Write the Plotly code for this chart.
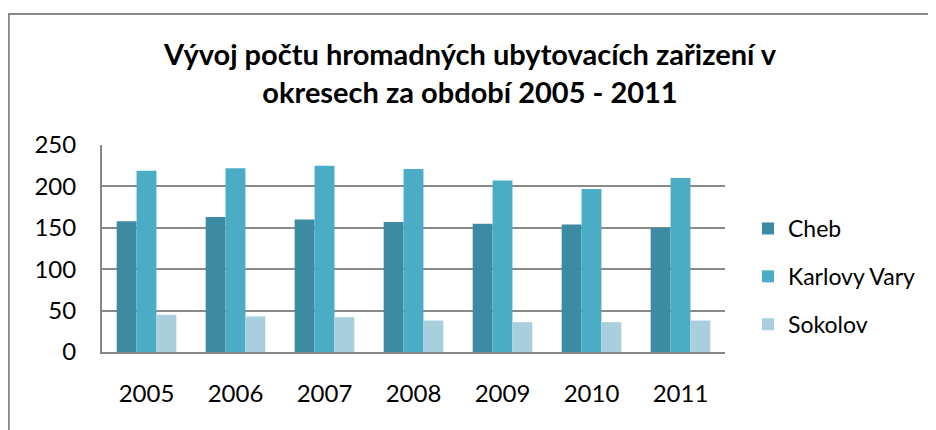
import plotly.graph_objects as go

years = ["2005", "2006", "2007", "2008", "2009", "2010", "2011"]
cheb = [158, 163, 160, 157, 155, 154, 150]
karlovy_vary = [219, 222, 225, 221, 207, 197, 210]
sokolov = [45, 43, 42, 38, 36, 36, 38]
series_names = ["Cheb", "Karlovy Vary", "Sokolov"]
colors = ["#3C8BA3", "#4BACC6", "#A9CFDD"]
y_ticks = [0, 50, 100, 150, 200, 250]

FONT = "Lato"

fig = go.Figure()
for name, vals, col in zip(series_names, [cheb, karlovy_vary, sokolov], colors):
    fig.add_trace(go.Bar(x=years, y=vals, name=name, marker_color=col,
                         marker_line_width=0, legendgroup=name))

# page body has an 8px offset; figure is sized to fill the rest of the window
W, H = 928, 422
L, T = 94, 137
R, B = W - 717, H - 344
pw, ph = W - L - R, H - T - B

def px(x):
    return (x - L) / pw

def py(y):
    return (T + ph - y) / ph

fig.update_layout(
    width=W, height=H,
    margin=dict(l=L, r=R, t=T, b=B, autoexpand=False),
    paper_bgcolor="white", plot_bgcolor="white",
    barmode="group", bargap=0.33, bargroupgap=0,
    font=dict(family=FONT, size=24, color="black"),
    title=dict(text="<b>Vývoj počtu hromadných ubytovacích zařizení v<br>okresech za období 2005 - 2011</b>",
               x=462 / W, xanchor="center", y=1 - 57 / H, yanchor="middle",
               yref="container", font=dict(family=FONT, size=29, color="black")),
    legend=dict(x=px(740), xanchor="left", y=py(199), yanchor="top",
                font=dict(size=23), traceorder="grouped", tracegroupgap=15,
                itemwidth=30, bgcolor="rgba(0,0,0,0)"),
    showlegend=True,
    xaxis=dict(showgrid=False, showline=True, linecolor="#878787", linewidth=2,
               ticks="", ticklabelstandoff=19, tickfont=dict(size=24)),
    yaxis=dict(range=[0, 250], tickvals=y_ticks, showgrid=True, gridcolor="#8A8A8A",
               gridwidth=1.5, showline=True, linecolor="#878787", linewidth=2,
               zeroline=False, ticks="", ticklabelstandoff=19, tickfont=dict(size=24)),
    shapes=[
        dict(type="line", xref="paper", yref="paper",
             x0=px(-1), x1=px(W + 2), y0=py(6), y1=py(6),
             line=dict(color="#878787", width=2)),
        dict(type="line", xref="paper", yref="paper",
             x0=px(0.8), x1=px(0.8), y0=py(6), y1=py(H + 2),
             line=dict(color="#878787", width=2)),
    ],
)

fig.write_html("out.html")
